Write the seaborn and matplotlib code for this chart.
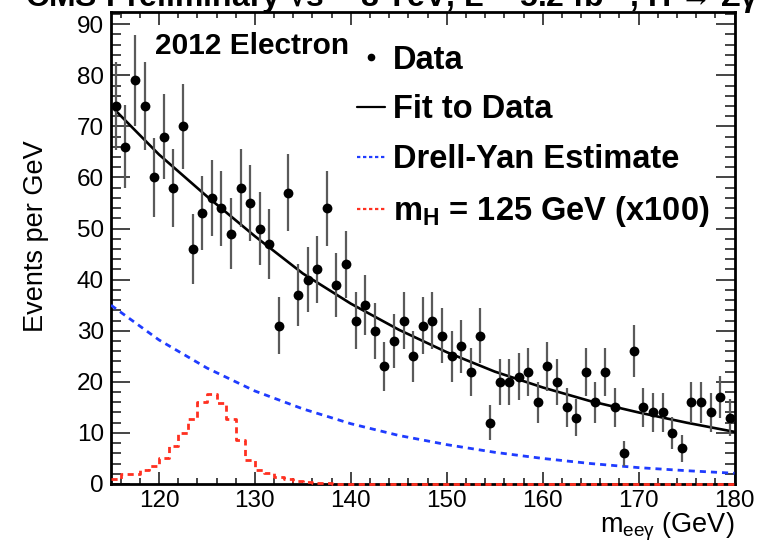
import numpy as np
import pandas as pd
import matplotlib
matplotlib.use("Agg")
import matplotlib.pyplot as plt
from matplotlib.lines import Line2D
from matplotlib.ticker import MultipleLocator
import seaborn as sns

# bins of 1 GeV from 115 to 180
bin_lo, bin_hi = 115, 180
counts = [74, 66, 79, 74, 60,
          68, 58, 70, 46, 53, 56, 54, 49, 58, 55,
          50, 47, 31, 57, 37, 40, 42, 54, 39, 43,
          32, 35, 30, 23, 28, 32, 25, 31, 32, 29,
          25, 27, 22, 29, 12, 20, 20, 21, 22, 16,
          23, 20, 15, 13, 22, 16, 22, 15, 6, 26,
          15, 14, 14, 10, 7, 16, 16, 14, 17, 13]

# fit and Drell-Yan curves, read every 5 GeV
curve_mass = [115, 120, 125, 130, 135, 140, 145, 150, 155, 160, 165, 170, 175, 180]
fit_vals = [74.0, 64.5, 56.3, 48.5, 41.2, 35.3, 30.2, 25.8, 22.0, 18.9, 16.2, 14.0, 12.0, 10.2]
dy_vals = [35.0, 28.2, 22.7, 18.2, 14.7, 11.8, 9.5, 7.7, 6.2, 5.0, 4.0, 3.2, 2.6, 2.1]

# signal (m_H = 125 GeV, x100), 1 GeV bins from 115
sig_vals = [0.9, 2.0, 2.0, 2.7, 3.5, 5.1, 7.5, 10.0, 12.8, 16.1,
            17.6, 15.9, 12.7, 8.6, 4.7, 2.7, 2.2, 1.4, 1.0, 0.6,
            0.3, 0.2, 0.1]

centers = np.arange(bin_lo, bin_hi) + 0.5
data = pd.DataFrame({"mass": centers, "events": counts})
data["err"] = np.sqrt(data["events"])
sig = np.zeros(len(centers))
sig[:len(sig_vals)] = sig_vals
signal = pd.DataFrame({"mass": centers, "sig": sig})
curves = pd.DataFrame({"mass": curve_mass, "fit": fit_vals, "dy": dy_vals})

sns.set_style("ticks")
plt.rcParams["font.family"] = ["Liberation Sans", "DejaVu Sans"]
plt.rcParams["mathtext.fontset"] = "custom"
plt.rcParams["mathtext.rm"] = "Liberation Sans"
plt.rcParams["mathtext.it"] = "Liberation Sans:italic"
plt.rcParams["mathtext.bf"] = "Liberation Sans:bold"
plt.rcParams["text.color"] = "black"
plt.rcParams["axes.labelcolor"] = "black"
plt.rcParams["xtick.labelcolor"] = "black"
plt.rcParams["ytick.labelcolor"] = "black"

fig = plt.figure(figsize=(7.63, 5.43), dpi=100)
ax = fig.add_axes([0.1455, 0.1087, 0.8172, 0.8683])

red = "#ff3020"
blue = "#1f3cff"

sns.histplot(data=signal, x="mass", weights="sig", binwidth=1, binrange=(bin_lo, bin_hi),
             element="step", fill=False, color=red, linestyle=(0, (2.2, 1.6)),
             linewidth=2.0, ax=ax, zorder=3, clip_on=False)
sns.lineplot(data=curves, x="mass", y="dy", color=blue, linestyle=(0, (2.2, 1.8)),
             linewidth=2.0, ax=ax, zorder=3)
sns.lineplot(data=curves, x="mass", y="fit", color="black", linewidth=1.9, ax=ax, zorder=4)
ax.errorbar(data["mass"], data["events"], yerr=data["err"], fmt="none",
            ecolor="#5a5a5a", elinewidth=1.6, capsize=0, zorder=5)
sns.scatterplot(data=data, x="mass", y="events", color="black", s=50,
                edgecolor="black", linewidth=0, ax=ax, zorder=6)

ax.set_xlim(bin_lo, bin_hi)
ax.set_ylim(0, 92.3)
ax.xaxis.set_major_locator(MultipleLocator(10))
ax.xaxis.set_minor_locator(MultipleLocator(2))
ax.yaxis.set_major_locator(MultipleLocator(10))
ax.yaxis.set_minor_locator(MultipleLocator(2))
ax.tick_params(axis="both", which="both", direction="in", top=True, right=True,
               color="#444444", width=1.4)
ax.tick_params(axis="x", which="major", length=9, pad=4, labelsize=17.5)
ax.tick_params(axis="x", which="minor", length=4.5)
ax.tick_params(axis="y", which="major", length=14, pad=5, labelsize=17.5)
ax.tick_params(axis="y", which="minor", length=7)
for side in ax.spines.values():
    side.set_linewidth(2.0)
    side.set_color("black")

ax.set_xlabel(r"m$_{\rm ee\gamma}$ (GeV)", fontsize=19.5)
ax.xaxis.set_label_coords(1.0, -0.056)
ax.xaxis.label.set_ha("right")
ax.set_ylabel("Events per GeV", fontsize=19.5)
ax.yaxis.set_label_coords(-0.100, 0.526)

ax.text(0.0706, 0.958, "2012 Electron", transform=ax.transAxes, fontsize=21.5,
        fontweight="bold", va="top", ha="left")

handles = [
    Line2D([], [], marker="o", color="black", linestyle="none", markersize=4.5),
    Line2D([], [], color="black", linewidth=1.6),
    Line2D([], [], color=blue, linewidth=1.6, linestyle=(0, (1.5, 1.2))),
    Line2D([], [], color=red, linewidth=1.6, linestyle=(0, (1.5, 1.2))),
]
labels = ["Data", "Fit to Data", "Drell-Yan Estimate", r"$\mathbf{m_H}$ = 125 GeV (x100)"]
leg = ax.legend(handles, labels, loc="upper left", bbox_to_anchor=(0.3945, 0.932),
                frameon=False, handlelength=0.86, handletextpad=0.25, labelspacing=0.58,
                borderpad=0, borderaxespad=0,
                prop={"size": 23.5, "weight": "bold"})

fig.text(0.033, 0.987, r"CMS Preliminary √s = 8 TeV, L = 5.2 fb$^{-1}$, H → Zγ",
         fontsize=23, fontweight="bold", ha="left", va="baseline")

fig.savefig("out.png", dpi=100)
